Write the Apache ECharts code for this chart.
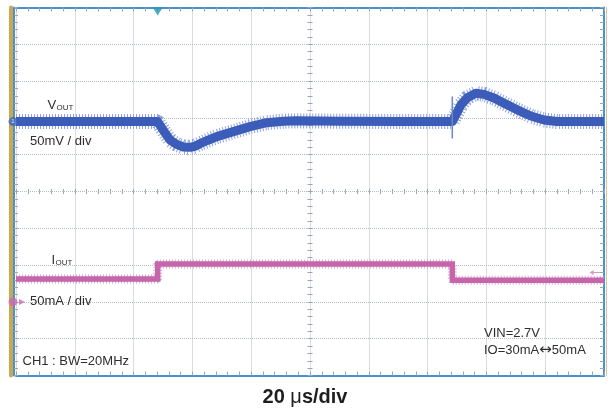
<!DOCTYPE html>
<html>
<head>
<meta charset="utf-8">
<script src="https://cdn.jsdelivr.net/npm/echarts@6/dist/echarts.min.js"></script>
<style>
html,body{margin:0;padding:0;background:#fff;}
#c{width:608px;height:411px;}
</style>
</head>
<body>
<div id="c"></div>
<script>
// ---- data (time in µs, VOUT deviation in mV, IOUT in mA) ----
const TIME_MIN = 0, TIME_MAX = 200, TIME_DIV = 20;      // 20 µs/div, 10 divisions
const VOUT_RANGE = [-345, 155];                          // 50 mV/div, channel marker at 0 mV
const IOUT_RANGE = [-100, 400];                          // 50 mA/div, channel marker at 0 mA
const DIV_RANGE = [0, 10];
const TRIGGER_T = 48.2;
const TRIG_LEVEL_MA = 40;

const VOUT = [
  [0,0],[10,0],[20,0],[30,0],[40,0],[48.2,0],[50.1,-12],[52.4,-25],[54.7,-31],
  [56.9,-34.5],[59.2,-35],[60.9,-33.5],[62.6,-30],[65.5,-25],[68.3,-20.5],
  [73.9,-13.7],[79.6,-6.9],[85.3,-1.5],[90.9,0.5],[95.5,1],[110,0.5],[130,0],
  [148.4,0],[149.6,9],[151.3,22.6],[153.5,32.5],[156.4,38.5],[159.2,37],
  [162.6,32],[166,25],[170.5,16],[175.1,7.6],[179.6,2.2],[184.1,0],[200,0]
];
const VOUT_SPIKE = [[148.4,34],[148.4,-23]];
const IOUT = [
  [0,31],[48.2,31],[48.2,51.5],[148.4,51.5],[148.4,29.5],[200,29.5]
];

const LABEL_VOUT = 'V', LABEL_OUT = 'OUT', LABEL_IOUT = 'I';
const LABEL_VSCALE = '50mV / div';
const LABEL_ISCALE = '50mA / div';
const LABEL_BW = 'CH1 : BW=20MHz';
const LABEL_VIN = 'VIN=2.7V';
const LABEL_IO_A = 'IO=30mA', LABEL_IO_ARROW = '\u2194', LABEL_IO_B = '50mA';
const LABEL_TIME_A = '20 ', LABEL_TIME_MU = '\u03bc', LABEL_TIME_B = 's/div';

// ---- style ----
const FONT = "'Liberation Sans', Arial, sans-serif";
const FRAME = '#4a8fd0';
const GOLD = '#c9a852';
const GRIDC = '#b4bcc8';
const TICKC = '#9aa5b4';
const BLUE = '#3b5cb8';
const BLUE_L = '#8ea2da';
const PINK = '#c566ab';
const PINK_L = '#dca6cf';
const TXT = '#2e2e2e';

const chart = echarts.init(document.getElementById('c'), null, {renderer:'canvas'});

function xAx(extra){
  return Object.assign({
    type:'value', min:TIME_MIN, max:TIME_MAX, interval:TIME_DIV,
    axisLabel:{show:false}, splitLine:{show:false},
    axisLine:{show:false, onZero:false},
    axisTick:{show:false}, minorTick:{show:false}
  }, extra);
}
function yAx(extra){
  return Object.assign({
    type:'value', min:DIV_RANGE[0], max:DIV_RANGE[1], interval:1,
    axisLabel:{show:false}, splitLine:{show:false},
    axisLine:{show:false, onZero:false},
    axisTick:{show:false}, minorTick:{show:false}
  }, extra);
}
const tickStyle = {color:TICKC, width:1};

const option = {
  animation:false,
  backgroundColor:'#fff',
  grid:{left:16, top:7.5, width:588, height:368},
  xAxis:[
    xAx({position:'bottom',
      splitLine:{show:true, lineStyle:{color:GRIDC, type:'dotted', width:1}},
      axisLine:{show:true, onZero:false, lineStyle:{color:FRAME, width:2}},
      axisTick:{show:true, inside:true, length:4, lineStyle:tickStyle},
      minorTick:{show:true, splitNumber:5, length:4, lineStyle:tickStyle}}),
    xAx({position:'top',
      axisLine:{show:true, onZero:false, lineStyle:{color:FRAME, width:2}},
      axisTick:{show:true, inside:true, length:4, lineStyle:tickStyle},
      minorTick:{show:true, splitNumber:5, length:4, lineStyle:tickStyle}}),
    xAx({position:'bottom', offset:-184,
      axisTick:{show:true, inside:true, length:2.5, lineStyle:tickStyle},
      minorTick:{show:true, splitNumber:5, length:2.5, lineStyle:tickStyle}}),
    xAx({position:'top', offset:-184,
      axisTick:{show:true, inside:true, length:2.5, lineStyle:tickStyle},
      minorTick:{show:true, splitNumber:5, length:2.5, lineStyle:tickStyle}})
  ],
  yAxis:[
    yAx({min:VOUT_RANGE[0], max:VOUT_RANGE[1], interval:50, position:'left'}),
    yAx({min:IOUT_RANGE[0], max:IOUT_RANGE[1], interval:50, position:'left'}),
    yAx({position:'left', offset:2,
      splitLine:{show:true, lineStyle:{color:GRIDC, type:'dotted', width:1}},
      axisLine:{show:true, onZero:false, lineStyle:{color:FRAME, width:2}},
      axisTick:{show:true, inside:true, length:4, lineStyle:tickStyle},
      minorTick:{show:true, splitNumber:5, length:4, lineStyle:tickStyle}}),
    yAx({position:'right',
      axisLine:{show:true, onZero:false, lineStyle:{color:FRAME, width:2}},
      axisTick:{show:true, inside:true, length:4, lineStyle:tickStyle},
      minorTick:{show:true, splitNumber:5, length:4, lineStyle:tickStyle}}),
    yAx({position:'left', offset:-294,
      axisTick:{show:true, inside:true, length:2.5, lineStyle:tickStyle},
      minorTick:{show:true, splitNumber:5, length:2.5, lineStyle:tickStyle}}),
    yAx({position:'right', offset:-294,
      axisTick:{show:true, inside:true, length:2.5, lineStyle:tickStyle},
      minorTick:{show:true, splitNumber:5, length:2.5, lineStyle:tickStyle}}),
    yAx({position:'left', offset:5,
      axisLine:{show:true, onZero:false, lineStyle:{color:GOLD, width:4}}}),
    yAx({position:'right', offset:2,
      axisLine:{show:true, onZero:false, lineStyle:{color:'#d8c79a', width:1}}})
  ],
  series:[
    {type:'line', name:'VOUT noise', data:VOUT, xAxisIndex:0, yAxisIndex:0,
      showSymbol:false, silent:true, z:3,
      lineStyle:{color:BLUE_L, width:15, type:[1,2]}},
    {type:'line', name:'VOUT', data:VOUT, xAxisIndex:0, yAxisIndex:0,
      showSymbol:false, silent:true, z:4,
      lineStyle:{color:BLUE, width:9, join:'round'}},
    {type:'line', name:'VOUT spike', data:VOUT_SPIKE, xAxisIndex:0, yAxisIndex:0,
      showSymbol:false, silent:true, z:4,
      lineStyle:{color:'#6d86c8', width:1.5}},
    {type:'line', name:'IOUT noise', data:IOUT, xAxisIndex:0, yAxisIndex:1,
      showSymbol:false, silent:true, z:3,
      lineStyle:{color:PINK_L, width:9, type:[1,2]}},
    {type:'line', name:'IOUT', data:IOUT, xAxisIndex:0, yAxisIndex:1,
      showSymbol:false, silent:true, z:4,
      lineStyle:{color:PINK, width:5.5, join:'miter'}},
    // trigger marker (top)
    {type:'scatter', data:[[TRIGGER_T, DIV_RANGE[1]]], xAxisIndex:0, yAxisIndex:2,
      symbol:'triangle', symbolRotate:180, symbolSize:[10,8], symbolOffset:[0,4],
      itemStyle:{color:'#1d9ab2'}, silent:true, z:8},
    // CH1 marker
    {type:'scatter', data:[[TIME_MIN, 0]], xAxisIndex:0, yAxisIndex:0,
      symbol:'circle', symbolSize:9, symbolOffset:[-3,0],
      itemStyle:{color:'#3f66bc'}, silent:true, z:6,
      label:{show:true, position:'inside', formatter:'1', color:'#fff', fontSize:6, fontFamily:FONT}},
    // CH2 marker
    {type:'scatter', data:[[TIME_MIN, 0]], xAxisIndex:0, yAxisIndex:1,
      symbol:'circle', symbolSize:9, symbolOffset:[-3,0],
      itemStyle:{color:'#c86cb0'}, silent:true, z:6},
    {type:'scatter', data:[[TIME_MIN, 0]], xAxisIndex:0, yAxisIndex:1,
      symbol:'triangle', symbolRotate:-90, symbolSize:[6,6], symbolOffset:[6,0],
      itemStyle:{color:'#c86cb0'}, silent:true, z:6},
    // CH2 trigger level arrow (right edge)
    {type:'scatter', data:[[TIME_MAX, TRIG_LEVEL_MA]], xAxisIndex:0, yAxisIndex:1,
      symbol:'path://M0,5 L6,0 L6,4 L16,4 L16,6 L6,6 L6,10 Z', symbolSize:[11,5], symbolOffset:[-9,0],
      itemStyle:{color:'#d37dbd'}, silent:true, z:6}
  ],
  graphic:[
    {type:'text', x:47.5, y:105.5, style:{text:LABEL_VOUT, font:'13px '+FONT, fill:TXT, verticalAlign:'middle'}, z:10},
    {type:'text', x:56.5, y:108, style:{text:LABEL_OUT, font:'8px '+FONT, fill:TXT, verticalAlign:'middle'}, z:10},
    {type:'text', x:30, y:141, style:{text:LABEL_VSCALE, font:'13px '+FONT, fill:TXT, verticalAlign:'middle'}, z:10},
    {type:'text', x:51.5, y:260.5, style:{text:LABEL_IOUT, font:'13px '+FONT, fill:TXT, verticalAlign:'middle'}, z:10},
    {type:'text', x:55.5, y:262.5, style:{text:LABEL_OUT, font:'8px '+FONT, fill:TXT, verticalAlign:'middle'}, z:10},
    {type:'text', x:30, y:301, style:{text:LABEL_ISCALE, font:'13px '+FONT, fill:TXT, verticalAlign:'middle'}, z:10},
    {type:'text', x:22.5, y:361.5, style:{text:LABEL_BW, font:'13px '+FONT, fill:TXT, verticalAlign:'middle'}, z:10},
    {type:'text', x:484, y:333, style:{text:LABEL_VIN, font:'13px '+FONT, fill:TXT, verticalAlign:'middle'}, z:10},
    {type:'text', x:484, y:350, style:{
      text:'{a|'+LABEL_IO_A+'}{r|'+LABEL_IO_ARROW+'}{a|'+LABEL_IO_B+'}',
      verticalAlign:'middle',
      rich:{
        a:{fontFamily:FONT, fontSize:13, fill:TXT, color:TXT},
        r:{fontFamily:"'DejaVu Sans', sans-serif", fontSize:15, fill:TXT, color:TXT}
      }}, z:10},
    {type:'text', x:305, y:397, style:{
      text:'{b|'+LABEL_TIME_A+'}{m|'+LABEL_TIME_MU+'}{b|'+LABEL_TIME_B+'}',
      align:'center', verticalAlign:'middle',
      rich:{
        b:{fontFamily:FONT, fontSize:20, fontWeight:'bold', fill:'#1e1e1e', color:'#1e1e1e'},
        m:{fontFamily:FONT, fontSize:20, fontWeight:'normal', fill:'#1e1e1e', color:'#1e1e1e'}
      }}, z:10}
  ]
};
chart.setOption(option);
</script>
</body>
</html>
